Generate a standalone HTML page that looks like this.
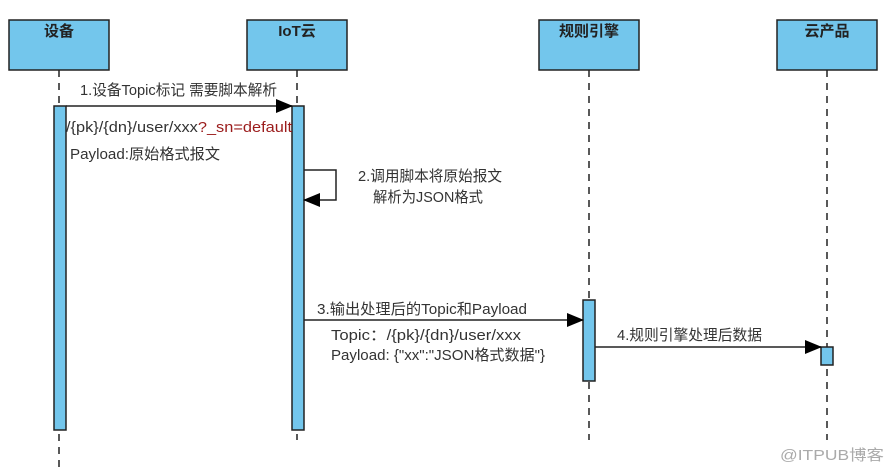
<!DOCTYPE html>
<html><head><meta charset="utf-8"><style>
body{margin:0;background:#fff;}
svg text{font-family:"Liberation Sans","Noto Sans CJK SC",sans-serif;}
</style></head><body>
<svg width="888" height="468" xmlns="http://www.w3.org/2000/svg">
<defs><marker id="a" markerWidth="17" markerHeight="14" refX="16" refY="7" orient="auto" markerUnits="userSpaceOnUse"><path d="M0,0 L17,7 L0,14 z" fill="#000"/></marker></defs>
<g stroke="#222" stroke-width="1.5" stroke-dasharray="7,6" fill="none">
<line x1="59" y1="70" x2="59" y2="468"/><line x1="297" y1="70" x2="297" y2="440"/>
<line x1="589" y1="70" x2="589" y2="440"/><line x1="827" y1="70" x2="827" y2="440"/>
</g>
<g fill="#73c6ec" stroke="#222" stroke-width="1.5">
<rect x="9" y="20" width="100" height="50"/><rect x="247" y="20" width="100" height="50"/>
<rect x="539" y="20" width="100" height="50"/><rect x="777" y="20" width="100" height="50"/>
<rect x="54" y="106" width="12" height="324"/><rect x="292" y="106" width="12" height="324"/>
<rect x="583" y="300" width="12" height="81"/><rect x="821" y="347" width="12" height="18"/>
</g>
<g font-size="15" font-weight="bold" fill="#222" text-anchor="middle">
<text x="59" y="36">设备</text><text x="297" y="36">IoT云</text><text x="589" y="36">规则引擎</text><text x="827" y="36">云产品</text>
</g>
<g stroke="#222" stroke-width="1.5" fill="none">
<line x1="66" y1="106" x2="292" y2="106" marker-end="url(#a)"/>
<polyline points="304,170 336,170 336,200 304,200" marker-end="url(#a)"/>
<line x1="304" y1="320" x2="583" y2="320" marker-end="url(#a)"/>
<line x1="595" y1="347" x2="821" y2="347" marker-end="url(#a)"/>
</g>
<g font-size="15" fill="#333">
<text x="80" y="95" textLength="197" lengthAdjust="spacingAndGlyphs">1.设备Topic标记 需要脚本解析</text>
<text x="66" y="132" textLength="226" lengthAdjust="spacingAndGlyphs">/{pk}/{dn}/user/xxx<tspan fill="#9b1c1c">?_sn=default</tspan></text>
<text x="70" y="159" textLength="150" lengthAdjust="spacingAndGlyphs">Payload:原始格式报文</text>
<text x="358" y="181" textLength="144" lengthAdjust="spacingAndGlyphs">2.调用脚本将原始报文</text>
<text x="373" y="202" textLength="110" lengthAdjust="spacingAndGlyphs">解析为JSON格式</text>
<text x="317" y="314" textLength="210" lengthAdjust="spacingAndGlyphs">3.输出处理后的Topic和Payload</text>
<text x="331" y="340" textLength="190" lengthAdjust="spacingAndGlyphs">Topic：/{pk}/{dn}/user/xxx</text>
<text x="331" y="360" textLength="214" lengthAdjust="spacingAndGlyphs">Payload: {"xx":"JSON格式数据"}</text>
<text x="617" y="340" textLength="145" lengthAdjust="spacingAndGlyphs">4.规则引擎处理后数据</text>
<text x="780" y="460" fill="#aaa" textLength="104" lengthAdjust="spacingAndGlyphs">@ITPUB博客</text>
</g>
</svg>
</body></html>
